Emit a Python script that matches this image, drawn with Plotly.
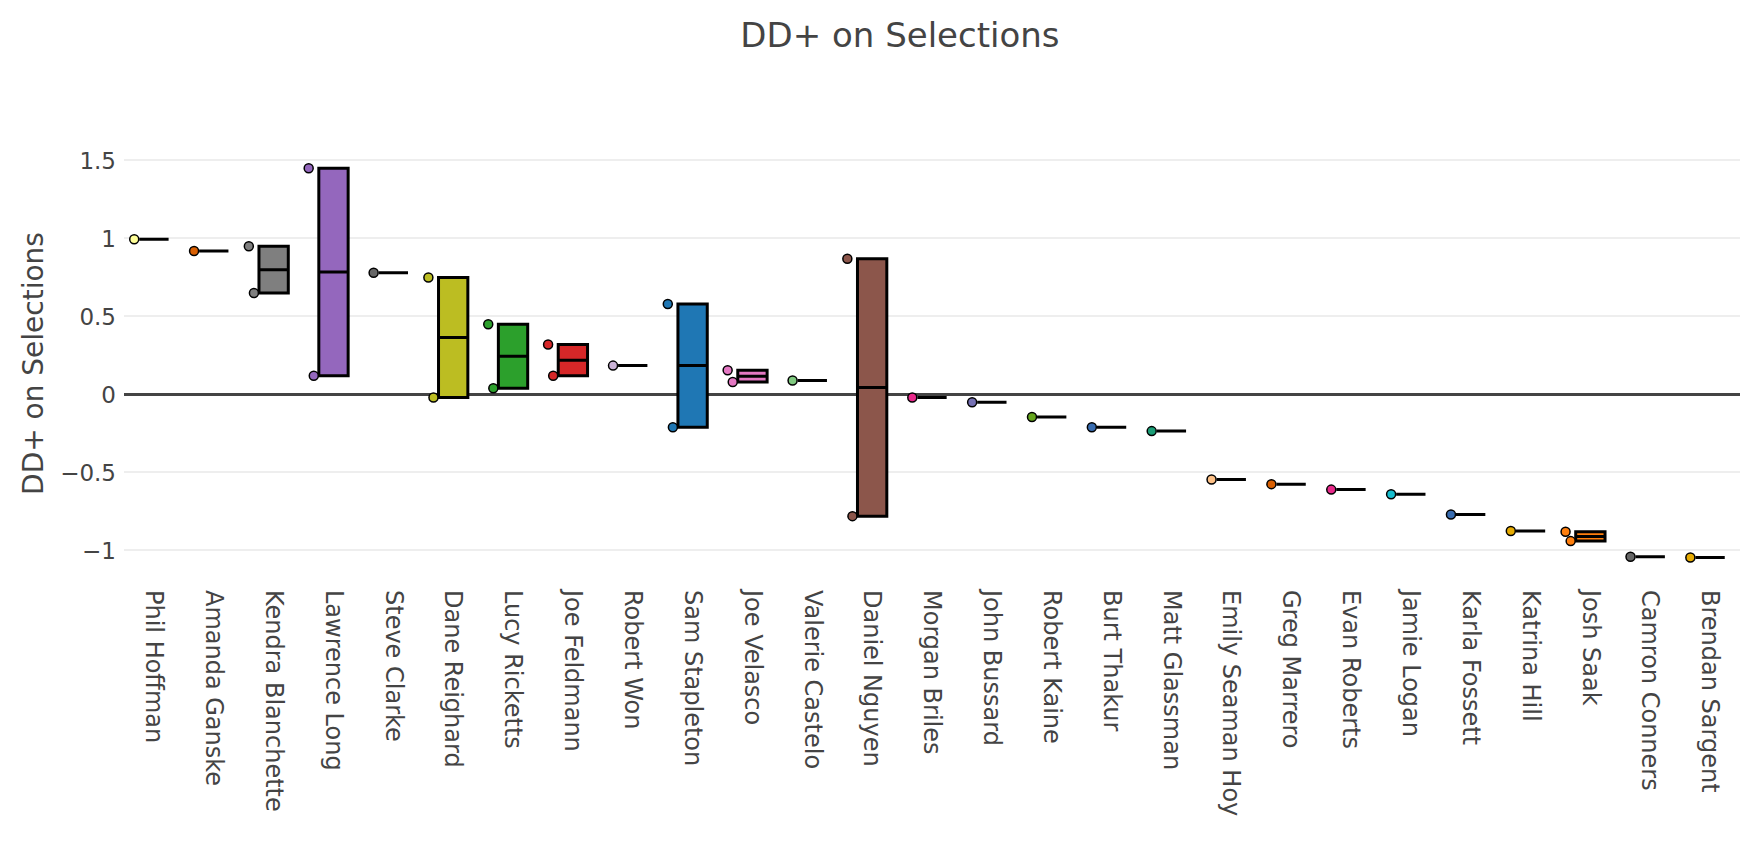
import plotly.graph_objects as go

names = ["Phil Hoffman", "Amanda Ganske", "Kendra Blanchette", "Lawrence Long", "Steve Clarke",
         "Dane Reighard", "Lucy Ricketts", "Joe Feldmann", "Robert Won", "Sam Stapleton",
         "Joe Velasco", "Valerie Castelo", "Daniel Nguyen", "Morgan Briles", "John Bussard",
         "Robert Kaine", "Burt Thakur", "Matt Glassman", "Emily Seaman Hoy", "Greg Marrero",
         "Evan Roberts", "Jamie Logan", "Karla Fossett", "Katrina Hill", "Josh Saak",
         "Camron Conners", "Brendan Sargent"]

values = [
    [0.995],
    [0.92],
    [0.95, 0.65],
    [1.45, 0.12],
    [0.78],
    [0.75, -0.02],
    [0.45, 0.04],
    [0.32, 0.12],
    [0.185],
    [0.58, -0.21],
    [0.155, 0.08],
    [0.09],
    [0.87, -0.78],
    [-0.02],
    [-0.05],
    [-0.145],
    [-0.21],
    [-0.235],
    [-0.545],
    [-0.575],
    [-0.61],
    [-0.64],
    [-0.77],
    [-0.875],
    [-0.88, -0.94],
    [-1.04],
    [-1.045],
]

colors = ["#ffff99", "#d95f02", "#7f7f7f", "#9467bd", "#666666",
          "#bcbd22", "#2ca02c", "#d62728", "#cab2d6", "#1f77b4",
          "#e377c2", "#7fc97f", "#8c564b", "#e7298a", "#7570b3",
          "#66a61e", "#386cb0", "#1b9e77", "#fdc086", "#d95f02",
          "#e7298a", "#17becf", "#386cb0", "#e6ab02", "#ff7f0e",
          "#666666", "#e6ab02"]

fig = go.Figure()
for name, vals, col in zip(names, values, colors):
    fig.add_trace(go.Box(
        x=[name] * len(vals), y=vals, name=name,
        boxpoints="all", jitter=0.3, pointpos=-1.5,
        fillcolor=col,
        line=dict(color="black", width=3),
        marker=dict(color=col, size=9, line=dict(color="black", width=1.5)),
        showlegend=False,
    ))

fig.update_layout(
    width=1752, height=866,
    paper_bgcolor="white", plot_bgcolor="white",
    font=dict(family="DejaVu Sans, Verdana, sans-serif", color="#444", size=23),
    title=dict(text="DD+ on Selections", x=0.5091, xanchor="center",
               y=1 - 27 / 866, yanchor="middle", font=dict(size=34)),
    margin=dict(l=116, r=20, t=140, b=295),
    xaxis=dict(tickangle=90, showgrid=False, tickfont=dict(size=24),
               ticklabelstandoff=10,
               categoryorder="array", categoryarray=names,
               range=[-0.5, len(names) - 0.5]),
    yaxis=dict(title=dict(text="DD+ on Selections", font=dict(size=28), standoff=8),
               ticklabelstandoff=7,
               gridcolor="#eeeeee", gridwidth=2, zeroline=True, zerolinecolor="#444",
               zerolinewidth=3, tickfont=dict(size=23), range=[-1.183, 1.58],
               tickvals=[-1, -0.5, 0, 0.5, 1, 1.5],
               ticktext=["\u22121", "\u22120.5", "0", "0.5", "1", "1.5"]),
)

fig.write_html("out.html")
